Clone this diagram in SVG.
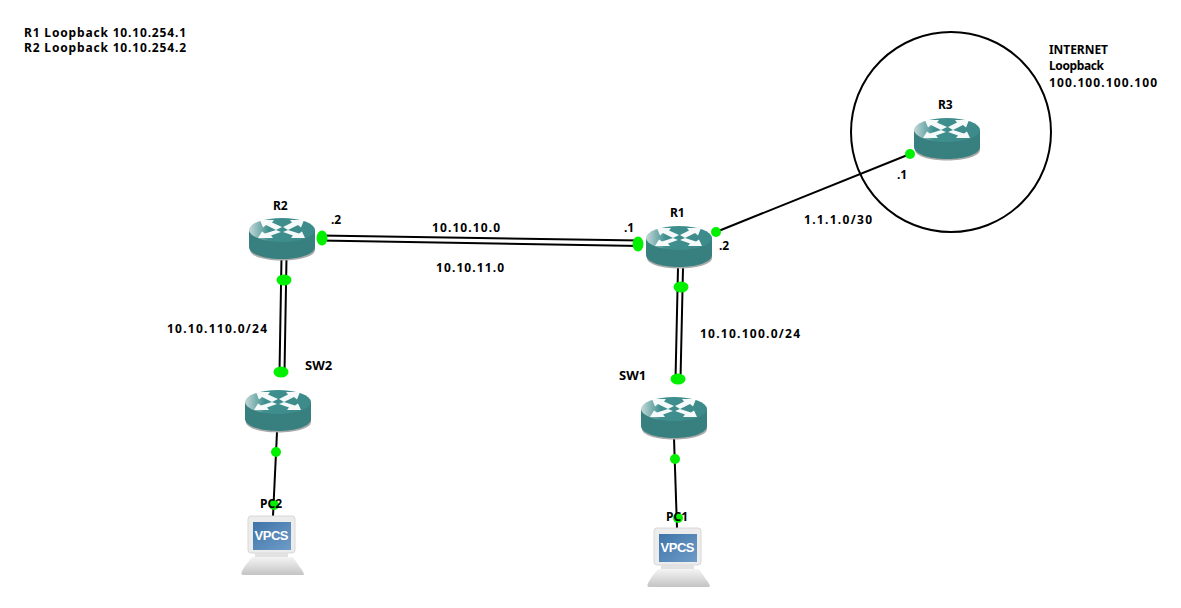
<svg xmlns="http://www.w3.org/2000/svg" width="1181" height="608" viewBox="0 0 1181 608">
<style>
text{font-family:"Noto Sans","DejaVu Sans",sans-serif;font-weight:700;font-size:12px;fill:#000}
.l{stroke:#000;stroke-width:2;fill:none}
.d{fill:#00f000}
.a{fill:#fff;opacity:.95}
</style>
<defs>
<linearGradient id="top" x1="0" y1="0" x2="1" y2="0"><stop offset="0" stop-color="#c4d8d8"/><stop offset=".3" stop-color="#3f8f8f"/><stop offset="1" stop-color="#3d8a8a"/></linearGradient>
<linearGradient id="scr" x1="0" y1="0" x2="1" y2="1"><stop offset="0" stop-color="#3f74a8"/><stop offset="1" stop-color="#6f9cc8"/></linearGradient>
<linearGradient id="base" x1="0" y1="0" x2="0" y2="1"><stop offset="0" stop-color="#f4f4f4"/><stop offset="1" stop-color="#c4c4c4"/></linearGradient>
<g id="router">
<path d="M1 14V32C1 38 15 42.500 33 42.500S66 38 66 32V14Z" fill="#aaa"/>
<path d="M0 12V29C0 36 15 41 33 41S66 36 66 29V12Z" fill="#37807f"/>
<ellipse cx="33" cy="12" rx="33" ry="12" fill="url(#top)"/>
<path class="a" d="M11 2H25L23 4.500L33 9L27 12L17 7L14 9.500Z"/>
<path class="a" d="M55 2H41L43 4.500L34 9L39 12L49 7L52 9.500Z"/>
<path class="a" d="M9 20H24L22 17.500L32 14L27 12L16 15.500L13 13.500Z"/>
<path class="a" d="M56 20H42L44 17.500L34 14L39 12L50 15.500L53 13.500Z"/>
</g>
<g id="vpcs">
<rect x="7" y="0" width="47" height="37" rx="3" fill="#ececec" stroke="#d8d8d8"/>
<rect x="12" y="6" width="38" height="28" fill="url(#scr)"/>
<rect x="14" y="37" width="33" height="4" fill="#e2e2e2"/>
<path d="M11 41H52L58 50Q65 59 62 59H2Q-2 59 4 50Z" fill="url(#base)"/>
<text x="13.500" y="24" textLength="34" style="font-family:'Liberation Sans',sans-serif;font-size:13px;fill:#fff">VPCS</text>
</g>
</defs>
<circle cx="951" cy="132" r="100" fill="none" stroke="#000" stroke-width="2"/>
<g id="connectors">
<path class="l" d="M320 235.500L640 240.500M320 240.500L640 246"/>
<path class="l" d="M281.500 258L279.500 372M286.500 258L284.500 372"/>
<path class="l" d="M678 268L675.500 379M683 268L680.500 379"/>
<path class="l" d="M716 232L910 154"/>
<path class="l" d="M277 432L273 516"/>
<path class="l" d="M674 438L677 528"/>
<g class="d">
<ellipse cx="322" cy="238" rx="5.500" ry="7.500"/><ellipse cx="638" cy="244" rx="5.500" ry="7.500"/>
<ellipse cx="284" cy="280" rx="7.500" ry="5.500"/><ellipse cx="281" cy="372" rx="7.500" ry="5.500"/>
<ellipse cx="681" cy="287" rx="7.500" ry="5.500"/><ellipse cx="678" cy="379" rx="7.500" ry="5.500"/>
<circle cx="716" cy="232" r="5"/><circle cx="910" cy="154" r="5"/>
<circle cx="276" cy="452" r="5"/><circle cx="274" cy="505" r="5"/>
<circle cx="675" cy="459" r="5"/><circle cx="678" cy="518" r="5"/>
</g>
</g>
<g id="R1"><use href="#router" x="646" y="226"/><text x="670" y="217">R1</text></g>
<g id="R2"><use href="#router" x="249" y="218"/><text x="273" y="210">R2</text></g>
<g id="R3"><use href="#router" x="914" y="118"/><text x="938" y="109">R3</text></g>
<g id="SW1"><use href="#router" x="641" y="397"/><text x="619" y="380" style="font-size:13px">SW1</text></g>
<g id="SW2"><use href="#router" x="245" y="390"/><text x="305" y="370" style="font-size:13px">SW2</text></g>
<g id="PC1"><use href="#vpcs" x="647" y="528"/><text x="666" y="521">PC1</text></g>
<g id="PC2"><use href="#vpcs" x="241" y="516"/><text x="260" y="508">PC2</text></g>
<g id="labels">
<text x="24" y="37" textLength="162">R1 Loopback 10.10.254.1</text>
<text x="24" y="52" textLength="162">R2 Loopback 10.10.254.2</text>
<text x="1049" y="54" textLength="59">INTERNET</text>
<text x="1049" y="70" textLength="55">Loopback</text>
<text x="1049" y="87" textLength="108">100.100.100.100</text>
<text x="331" y="224">.2</text>
<text x="624" y="232">.1</text>
<text x="719" y="250">.2</text>
<text x="897" y="179">.1</text>
<text x="432" y="232" textLength="68">10.10.10.0</text>
<text x="436" y="272" textLength="68">10.10.11.0</text>
<text x="804" y="224" textLength="68">1.1.1.0/30</text>
<text x="167" y="333" textLength="100">10.10.110.0/24</text>
<text x="700" y="338" textLength="100">10.10.100.0/24</text>
</g>
</svg>
